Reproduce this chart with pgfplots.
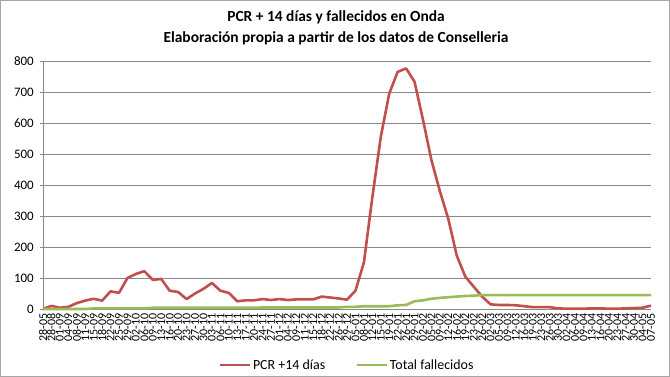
\documentclass[border=0pt]{standalone}
\usepackage{fontspec}
\setmainfont{Carlito}
\usepackage{pgfplots}
\usepackage{pgfplotstable}
\pgfplotsset{compat=1.18}
\definecolor{redl}{HTML}{C0504D}
\definecolor{greenl}{HTML}{9BBB59}
\definecolor{gridc}{HTML}{888888}

\pgfplotstableread{
i pcr fall
0 0 0
1 10 0
2 4 0
3 7 0
4 19 0
5 27 0
6 33 2
7 27 2
8 57 2
9 52 2
10 100 2
11 113 2
12 122 2
13 94 4
14 97 4
15 59 4
16 55 4
17 32 4
18 50 4
19 65 4
20 84 4
21 59 4
22 52 4
23 25 4
24 28 4
25 28 4
26 32 5
27 29 5
28 32 5
29 29 5
30 31 5
31 31 5
32 31 5
33 40 5
34 37 5
35 34 5
36 30 7
37 59 7
38 150 9
39 360 9
40 555 9
41 695 9
42 765 12
43 776 13
44 733 25
45 610 28
46 480 33
47 380 36
48 290 38
49 172 40
50 105 42
51 72 43
52 40 45
53 15 45
54 13 45
55 13 45
56 12 45
57 9 45
58 6 45
59 6 45
60 6 45
61 2 45
62 1 45
63 1 45
64 1 45
65 2 45
66 2 45
67 1 45
68 1 45
69 2 45
70 3 45
71 4 45
72 11 45
}\datatable

\begin{document}
\begin{tikzpicture}
\useasboundingbox (0,0) rectangle (670bp,377bp);
\draw[gray!70, line width=0.8bp] (0.4bp,0.4bp) rectangle (669.6bp,376.6bp);
\node[font=\fontsize{15.5}{17}\selectfont\bfseries] at (336bp,360bp) {PCR + 14 días y fallecidos en Onda};
\node[font=\fontsize{15.5}{17}\selectfont\bfseries] at (336bp,339bp) {Elaboración propia a partir de los datos de Conselleria};
\begin{axis}[
  at={(43bp,68bp)}, anchor=south west,
  scale only axis, width=608bp, height=248bp,
  xmin=0, xmax=72, ymin=0, ymax=800,
  ytick={0,100,...,800},
  xtick={0,...,72},
  xticklabels={28-05,28-08,01-09,04-09,08-09,11-09,15-09,18-09,22-09,25-09,29-09,02-10,06-10,09-10,13-10,16-10,20-10,23-10,27-10,30-10,03-11,06-11,10-11,13-11,17-11,20-11,24-11,27-11,01-12,04-12,09-12,11-12,15-12,18-12,22-12,26-12,29-12,05-01,08-01,12-01,15-01,19-01,22-01,26-01,29-01,02-02,05-02,09-02,12-02,16-02,19-02,23-02,26-02,02-03,05-03,09-03,12-03,16-03,19-03,23-03,26-03,30-03,02-04,06-04,09-04,13-04,16-04,20-04,23-04,27-04,30-04,04-05,07-05},
  xticklabel style={rotate=90, anchor=east, font=\fontsize{12}{12}\selectfont, inner sep=1.5bp},
  yticklabel style={font=\fontsize{13}{14}\selectfont, inner sep=2bp, xshift=-4bp},
  /pgf/number format/assume math mode=true,
  axis lines*=left,
  axis line style={gridc, line width=0.8bp, -},
  ymajorgrids, grid style={gridc, line width=0.8bp},
  tick style={gridc, line width=0.6bp},
  major tick length=3bp,
  tick align=outside,
  xtick style={draw=none},
  clip=false,
  legend columns=2,
  legend style={at={(0.5,-0.226)}, anchor=center, draw=none, fill=none,
    font=\fontsize{14}{15}\selectfont, /tikz/every even column/.append style={column sep=28bp}},
  legend image code/.code={\draw[#1] (0bp,0bp) -- (30bp,0bp);},
]
\addplot[redl, line width=2.6bp, line join=round] table[x=i, y=pcr] {\datatable};
\addlegendentry{PCR +14 días}
\addplot[greenl, line width=2.6bp, line join=round] table[x=i, y=fall] {\datatable};
\addlegendentry{Total fallecidos}
\end{axis}
\end{tikzpicture}
\end{document}
